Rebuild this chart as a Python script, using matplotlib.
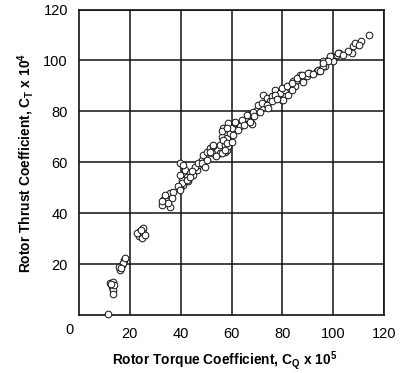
import numpy as np
import matplotlib.pyplot as plt

plt.rcParams['font.family'] = ['Liberation Sans', 'DejaVu Sans']

# rotor torque coefficient (x 10^5) and thrust coefficient (x 10^4)
cq = np.array([
    11.5,
    12.2, 13.5, 12.9, 13.5, 13.3, 13.9, 12.6,
    16.1, 16.8, 17.7, 17.2, 15.9, 18.1, 16.5,
    23.7, 25.0, 24.0, 25.3, 22.9, 24.7, 26.0, 24.5,
    32.5, 33.2, 34.5, 35.8, 37.1, 34.5, 35.8, 33.8, 36.5, 35.1, 32.5,
    39.7, 41.7, 43.7, 42.4, 40.4, 41.0, 39.7, 43.0, 46.3, 45.0, 46.9, 41.0,
    39.7, 40.4, 39.0, 42.4, 43.7, 39.7, 45.6, 48.3, 49.6, 52.2, 55.5, 57.4,
    46.9, 48.3, 49.6, 48.9, 50.2, 50.2, 51.5, 52.8, 56.1, 58.1, 55.5, 57.4,
    58.7, 56.1, 58.1, 59.4, 60.7, 56.8, 60.0, 58.7, 61.4, 63.3, 67.9, 67.3,
    66.0, 66.6, 68.6, 69.9, 70.5, 71.9, 72.5, 73.8, 75.1, 76.0, 77.1, 79.0,
    79.7, 81.0, 82.3, 83.0, 85.0, 84.3, 85.6, 87.6, 86.9, 89.6, 90.6, 93.5,
    94.8, 96.8, 96.0, 98.0, 100.0, 98.7, 101.4, 102.3, 107.3, 106.0, 107.7,
    108.7, 111.0, 114.2,
    56.8, 56.1, 58.1, 61.4, 58.1, 57.4, 52.8, 51.5, 66.0, 67.3, 68.6, 71.2,
    73.8, 75.8, 77.1, 79.7, 81.7, 83.7, 85.6, 87.6, 90.2, 94.1, 96.1, 98.1,
    80.4, 83.7, 102.0, 96.1, 94.8, 64.0, 62.5, 65.0, 69.0, 74.5, 78.0, 88.0,
    92.0, 104.0, 110.0, 60.0, 54.0, 44.5,
])
ct = np.array([
    0.5,
    12.5, 13.1, 11.1, 9.8, 8.3, 11.8, 12.0,
    17.7, 19.7, 21.6, 20.6, 19.0, 22.3, 18.5,
    31.1, 34.1, 32.8, 32.1, 32.1, 30.2, 31.5, 33.5,
    43.3, 45.2, 46.5, 47.9, 48.5, 44.6, 42.6, 47.2, 45.9, 44.0, 44.6,
    59.7, 57.0, 55.7, 54.4, 53.1, 51.1, 49.8, 52.5, 57.0, 55.1, 59.0, 59.0,
    55.1, 51.8, 50.5, 53.1, 54.4, 49.2, 58.3, 61.0, 62.3, 63.6, 63.6, 64.2,
    59.7, 59.7, 58.3, 62.9, 61.0, 64.2, 65.6, 66.2, 63.6, 64.9, 66.9, 66.9,
    66.2, 70.1, 69.5, 71.5, 70.8, 73.4, 73.4, 75.4, 75.4, 74.1, 75.1, 76.7,
    77.4, 78.7, 79.3, 80.6, 82.6, 83.3, 86.5, 85.2, 83.9, 85.9, 88.5, 87.2,
    84.6, 88.5, 86.5, 89.2, 89.8, 91.8, 92.4, 92.4, 94.4, 93.7, 95.1, 95.7,
    96.4, 97.7, 99.7, 100.3, 99.7, 101.6, 102.3, 103.0, 103.0, 103.6, 105.5,
    106.9, 107.5, 109.8,
    68.8, 72.1, 73.4, 76.0, 67.5, 64.9, 66.9, 64.2, 78.7, 76.0, 79.8, 79.8,
    82.6, 83.9, 86.6, 89.2, 89.8, 91.1, 93.1, 94.4, 95.1, 96.4, 97.7, 99.7,
    84.6, 88.5, 103.0, 99.0, 95.7, 76.5, 72.5, 74.5, 78.0, 81.5, 85.0, 91.5,
    94.5, 102.0, 106.0, 68.0, 62.5, 56.5,
])

xticks = [20, 40, 60, 80, 100, 120]
yticks = [20, 40, 60, 80, 100, 120]

fig = plt.figure(figsize=(4.04, 3.73), dpi=100)
ax = fig.add_axes([79 / 404, 58 / 373, 305 / 404, 305.5 / 373])

ax.plot(cq, ct, 'o', ms=4.8, mfc='white', mec='#111111', mew=0.7, clip_on=False, zorder=3)

ax.set_xlim(0, 120)
ax.set_ylim(0, 120)
ax.set_xticks(xticks)
ax.set_yticks(yticks)
ax.grid(True, color='#111111', lw=1.1)
ax.set_axisbelow(True)
for s in ax.spines.values():
    s.set_linewidth(1.2)
    s.set_color('#111111')
ax.tick_params(length=0, labelsize=10.5, pad=8)
ax.tick_params(axis='x', pad=9)

# the shared origin label sits a little left of the corner
fig.text(69 / 404, 1 - 330 / 373, '0', ha='center', va='center', fontsize=10.5)

fig.text(225 / 404, 1 - 361 / 373,
         r'Rotor Torque Coefficient, C$_\mathregular{Q}$ x 10$^\mathregular{5}$',
         ha='center', va='center', fontsize=9.9, fontweight='bold')
fig.text(26 / 404, 1 - 163 / 373,
         r'Rotor Thrust Coefficient, C$_\mathregular{T}$ x 10$^\mathregular{4}$',
         ha='center', va='center', rotation=90, fontsize=9.9, fontweight='bold')

fig.savefig('out.png', dpi=100)
